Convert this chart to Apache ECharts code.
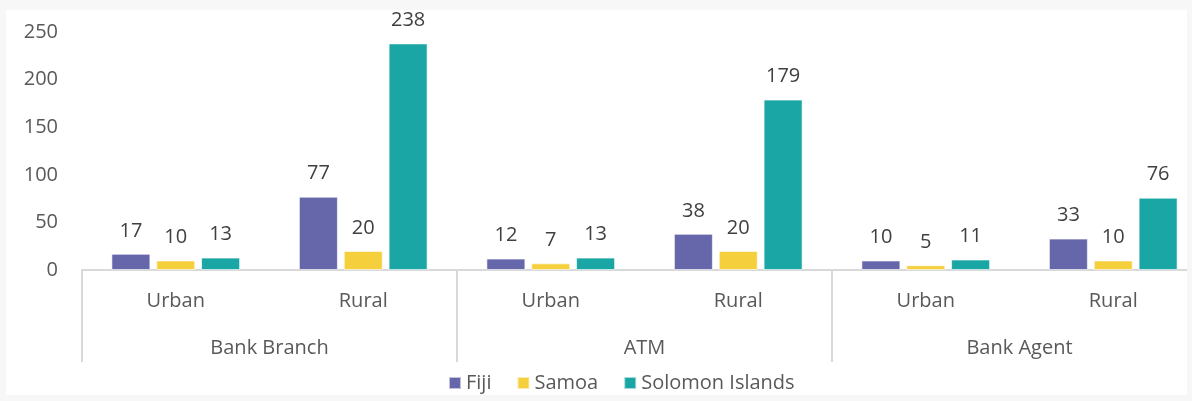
<!DOCTYPE html>
<html>
<head>
<meta charset="utf-8">
<script src="https://cdn.jsdelivr.net/npm/echarts@6/dist/echarts.min.js"></script>
<style>
  html, body { margin: 0; padding: 0; background: #f7f7f7; }
  #wrap { position: absolute; left: 6px; top: 10px; width: 1181px; height: 385px; background: #fff; overflow: hidden; }
  #chart { position: absolute; left: 0; top: 0; width: 1220px; height: 385px; }
</style>
</head>
<body>
<div id="wrap"><div id="chart"></div></div>
<script>
var groups = ['Bank Branch', 'ATM', 'Bank Agent'];
var subCats = ['Urban', 'Rural', 'Urban', 'Rural', 'Urban', 'Rural'];
var fiji = [17, 77, 12, 38, 10, 33];
var samoa = [10, 20, 7, 20, 5, 10];
var solomon = [13, 238, 13, 179, 11, 76];
var yTicks = [0, 50, 100, 150, 200, 250];

var font = '"Open Sans", Lato, sans-serif';

function barSeries(name, data, color) {
  return {
    name: name,
    type: 'bar',
    data: data,
    barWidth: 39,
    barGap: '15%',
    itemStyle: { color: color, borderColor: 'rgba(255,255,255,0.6)', borderWidth: 1 },
    label: {
      show: true,
      position: 'top',
      distance: 13,
      color: '#404040',
      fontSize: 20,
      fontFamily: font
    }
  };
}

var myChart = echarts.init(document.getElementById('chart'));
var option = {
  animation: false,
  textStyle: { fontFamily: font },
  grid: { left: 76, top: 22, width: 1125, bottom: 125, containLabel: false },
  legend: {
    left: 437,
    top: 358,
    itemWidth: 12,
    itemHeight: 12,
    itemGap: 25,
    icon: 'rect',
    textStyle: { color: '#595959', fontSize: 20, fontFamily: font },
    data: ['Fiji', 'Samoa', 'Solomon Islands']
  },
  xAxis: [{
    type: 'category',
    data: subCats,
    position: 'bottom',
    axisLine: { show: true, lineStyle: { color: '#d9d9d9', width: 2 } },
    axisTick: { show: false },
    axisLabel: { interval: 0, margin: 21, color: '#595959', fontSize: 20, fontFamily: font }
  }, {
    type: 'category',
    data: groups,
    position: 'bottom',
    axisLine: { show: false },
    axisTick: { show: true, length: 92, lineStyle: { color: '#d9d9d9', width: 2 } },
    axisLabel: { interval: 0, margin: 68, color: '#595959', fontSize: 20, fontFamily: font }
  }],
  yAxis: {
    type: 'value',
    min: yTicks[0],
    max: yTicks[yTicks.length - 1],
    interval: 50,
    axisLine: { show: false },
    axisTick: { show: false },
    splitLine: { show: false },
    axisLabel: { margin: 24, color: '#595959', fontSize: 20, fontFamily: font }
  },
  series: [
    barSeries('Fiji', fiji, '#6667ab'),
    barSeries('Samoa', samoa, '#f6cf3c'),
    barSeries('Solomon Islands', solomon, '#19a6a4')
  ]
};
myChart.setOption(option);
</script>
</body>
</html>
